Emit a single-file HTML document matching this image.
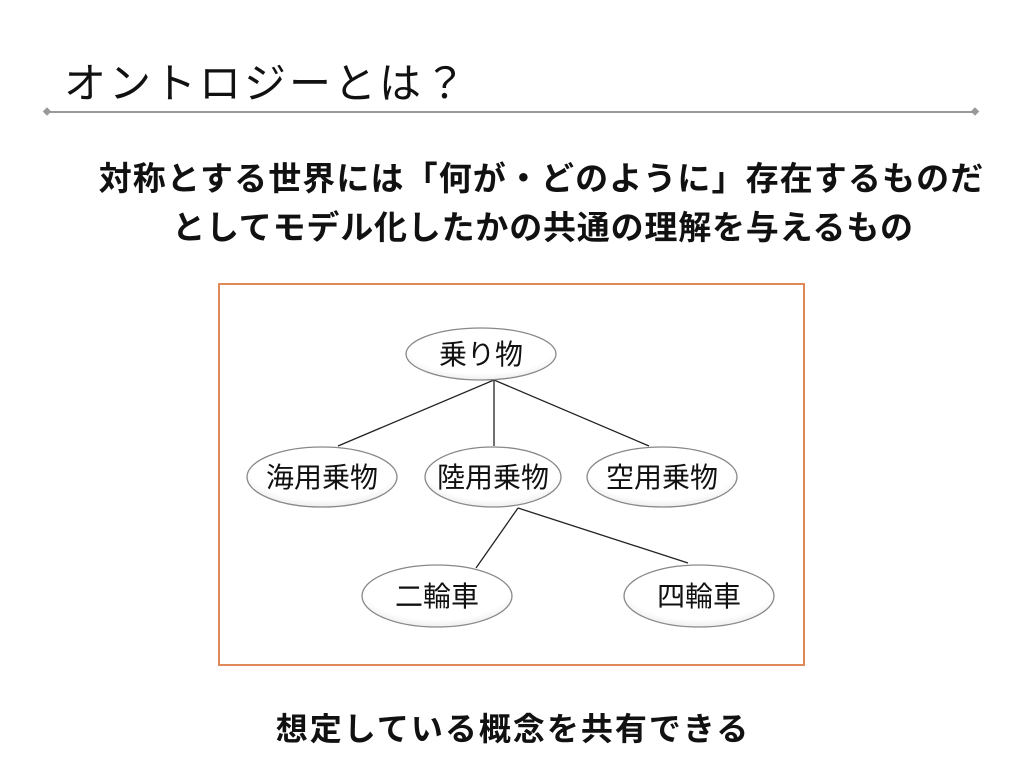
<!DOCTYPE html>
<html><head><meta charset="utf-8"><style>
body{margin:0;width:1024px;height:768px;background:#fff;position:relative;overflow:hidden;font-family:"Liberation Sans","Noto Sans CJK JP",sans-serif;}
.t{position:absolute;white-space:nowrap;color:#111;}
</style></head><body>
<div class="t" style="left:64px;top:50px;font-size:42px;letter-spacing:3px;">オントロジーとは？</div>
<svg width="1024" height="768" style="position:absolute;left:0;top:0">
<line x1="48" y1="112" x2="975" y2="112" stroke="#999" stroke-width="2"/>
<rect x="44" y="108.5" width="6" height="6" fill="#999" transform="rotate(45 47 111.5)"/>
<rect x="972" y="108.5" width="6" height="6" fill="#999" transform="rotate(45 975 111.5)"/>
<rect x="219" y="284" width="585" height="381" fill="#fff" stroke="#e0895a" stroke-width="2"/>
<g stroke="#222" stroke-width="1.3">
<line x1="494" y1="380" x2="338" y2="446"/>
<line x1="494" y1="380" x2="494" y2="446"/>
<line x1="494" y1="380" x2="649" y2="446"/>
<line x1="518" y1="508" x2="476" y2="568"/>
<line x1="518" y1="508" x2="688" y2="563"/>
</g>
<defs><radialGradient id="g" cx="50%" cy="40%" r="60%"><stop offset="0" stop-color="#fff"/><stop offset="0.8" stop-color="#fff"/><stop offset="1" stop-color="#eee"/></radialGradient></defs>
<g fill="url(#g)" stroke="#888" stroke-width="1.3">
<ellipse cx="481" cy="354" rx="75" ry="26"/>
<ellipse cx="322" cy="477" rx="75" ry="30"/>
<ellipse cx="493" cy="477" rx="68" ry="30"/>
<ellipse cx="662" cy="477" rx="75" ry="30"/>
<ellipse cx="437" cy="596" rx="75" ry="31"/>
<ellipse cx="699" cy="596" rx="75" ry="31"/>
</g>
<g font-family="Liberation Sans, Noto Sans CJK JP, sans-serif" font-size="28" fill="#111" text-anchor="middle">
<text x="481" y="364">乗り物</text>
<text x="322" y="487">海用乗物</text>
<text x="493" y="487">陸用乗物</text>
<text x="662" y="487">空用乗物</text>
<text x="437" y="606">二輪車</text>
<text x="699" y="606">四輪車</text>
</g>
</svg>
<div class="t" style="left:0;width:1083px;text-align:center;top:152px;font-size:33px;font-weight:bold;letter-spacing:1.1px;">対称とする世界には「何が・どのように」存在するものだ</div>
<div class="t" style="left:0;width:1086px;text-align:center;top:201px;font-size:33px;font-weight:bold;letter-spacing:0.8px;">としてモデル化したかの共通の理解を与えるもの</div>
<div class="t" style="left:0;width:1026px;text-align:center;top:704px;font-size:32px;font-weight:bold;letter-spacing:2px;">想定している概念を共有できる</div>
</body></html>
